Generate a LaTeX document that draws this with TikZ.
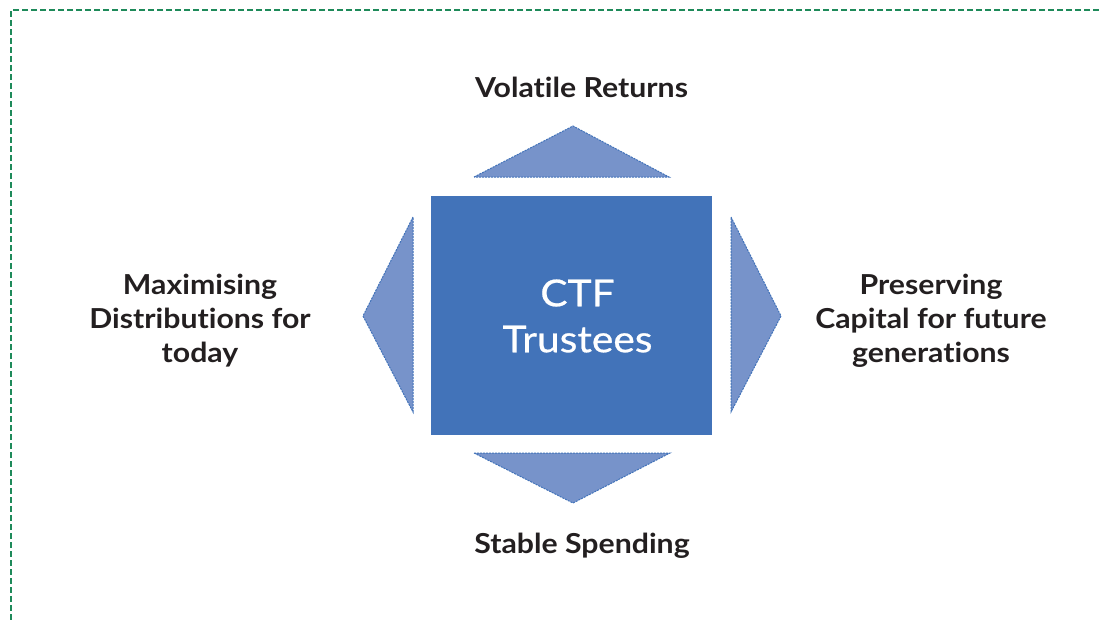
\documentclass[tikz,border=0pt]{standalone}
\usepackage{fontspec}
\setmainfont{Lato}[RawFeature={-liga},FakeStretch=1.1]
\newfontfamily\latobold{Lato Bold}[RawFeature={-liga},FakeStretch=1.1]
\newfontfamily\latomed{Lato}[RawFeature={-liga},FakeStretch=1.1,FakeBold=0.6]
\begin{document}
\begin{tikzpicture}[x=1pt,y=-1pt,
  framecol/.style={draw=greenline,line width=1.5pt,dash pattern=on 6pt off 3pt},
  mainbox/.style={fill=mainblue,draw=none},
  tri/.style={fill=triblue,draw=mainblue,line width=1pt,dash pattern=on 2pt off 1pt},
  lbl/.style={inner sep=0pt,text=darktext,font=\latobold\fontsize{27.5}{34}\selectfont,align=center},
  ctr/.style={inner sep=0pt,text=white,font=\latomed\fontsize{37}{46}\selectfont,align=center}]
\definecolor{greenline}{HTML}{1E8A5A}
\definecolor{mainblue}{HTML}{4273B9}
\definecolor{triblue}{HTML}{7793CA}
\definecolor{darktext}{HTML}{231F20}
\useasboundingbox (0,0) rectangle (1099,622);
\coordinate (tl) at (11,10);
\coordinate (tr) at (1099,10);
\coordinate (bl) at (11,622);
\draw[framecol] (tr) -- (tl) -- (bl);
% central box
\node[mainbox,minimum width=281pt,minimum height=239pt,inner sep=0pt] (box) at (571.5,315.5) {};
\node[ctr] (ctf) at (577.5,316) {CTF\\Trustees};
% triangles
\draw[tri] (474,177) -- (573,126) -- (669,177) -- cycle;
\draw[tri] (474,453) -- (573,503) -- (670,453) -- cycle;
\draw[tri] (413,217) -- (363,316) -- (413,412) -- cycle;
\draw[tri] (731,217) -- (781,316) -- (731,412) -- cycle;
% labels
\node[lbl,anchor=base] (vol) at (581.5,97) {Volatile Returns};
\node[lbl,anchor=base] (stab) at (582,553) {Stable Spending};
\node[lbl] (maxd) at (200,321) {Maximising\\Distributions for\\today};
\node[lbl] (pres) at (931,321) {Preserving\\Capital for future\\generations};
\end{tikzpicture}
\end{document}
